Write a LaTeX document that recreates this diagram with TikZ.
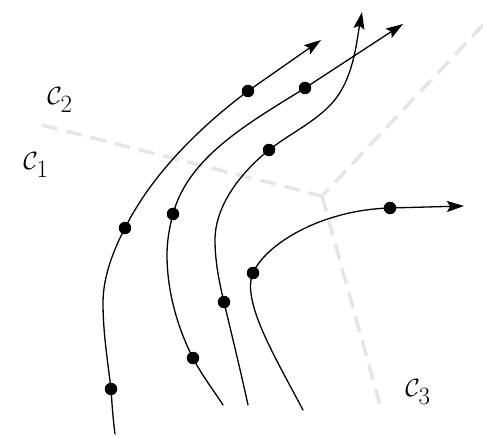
\documentclass[tikz,border=0pt]{standalone}
\usetikzlibrary{arrows.meta}
\begin{document}
\begin{tikzpicture}[x=1pt,y=-1pt,
  traj/.style={line width=1.3pt,line cap=round},
  arr/.style={traj,-{Stealth[length=17pt,width=11pt,inset=3pt]}},
  dot/.style={circle,fill=black,inner sep=0pt,minimum size=12.5pt},
  wall/.style={draw=black!10,line width=3.5pt,dash pattern=on 16pt off 9pt},
  lab/.style={font=\fontsize{38}{42}\selectfont}]
\useasboundingbox (0,0) rectangle (483,436);
% faint boundaries
\coordinate (J) at (322,196);
\coordinate (W1) at (42,125);
\coordinate (W2) at (483,25);
\coordinate (W3) at (382,412);
\draw[wall] (W1) -- (J);
\draw[wall] (W2) -- (J);
\draw[wall] (J) -- (W3);
% labels
\node[lab] (c2) at (60,100) {$\mathcal{C}_2$};
\node[lab] (c1) at (36,165) {$\mathcal{C}_1$};
\node[lab] (c3) at (418,392) {$\mathcal{C}_3$};
% dots and ends
\coordinate (a0) at (115,434);
\node[dot] (a1) at (111,389) {};
\node[dot] (a2) at (125,228) {};
\node[dot] (a3) at (248,91) {};
\coordinate (a4) at (321,40);
\coordinate (b0) at (223,405);
\node[dot] (b1) at (193,358) {};
\node[dot] (b2) at (173,214) {};
\node[dot] (b3) at (305,88) {};
\coordinate (b4) at (403,24);
\coordinate (c0) at (248,405);
\node[dot] (cc1) at (224,302) {};
\node[dot] (cc2) at (269,150) {};
\coordinate (c4) at (362,12);
\coordinate (d0) at (303,410);
\node[dot] (d1) at (253,273) {};
\node[dot] (d2) at (390,208) {};
\coordinate (d4) at (464,206);
% curve A
\draw[arr] (a0) .. controls (113,419) and (112,404) .. (a1.center)
  .. controls (107.5,360) and (103,332) .. (103,303)
  .. controls (103,277) and (113,251) .. (a2.center)
  .. controls (152,174) and (200,127) .. (a3.center) -- (a4);
% curve B
\draw[arr] (b0) .. controls (212.7,389) and (201.7,375) .. (b1.center)
  .. controls (177,327) and (167,290) .. (167,255)
  .. controls (167,241) and (169.4,227.4) .. (b2.center)
  .. controls (188.6,156) and (250,122.5) .. (b3.center) -- (b4);
% curve C
\draw[arr] (c0) .. controls (240.6,370.7) and (232,336) .. (cc1.center)
  .. controls (219,281.6) and (215,261) .. (215,240)
  .. controls (215,205) and (241.7,171.7) .. (cc2.center)
  .. controls (290.8,132.6) and (320.5,119.7) .. (337,97)
  .. controls (354,73.5) and (356.8,40.4) .. (c4);
% curve D
\draw[arr] (d0) .. controls (275,357) and (241,300.6) .. (d1.center)
  .. controls (265,245) and (320,210) .. (d2.center) -- (d4);
\end{tikzpicture}
\end{document}
